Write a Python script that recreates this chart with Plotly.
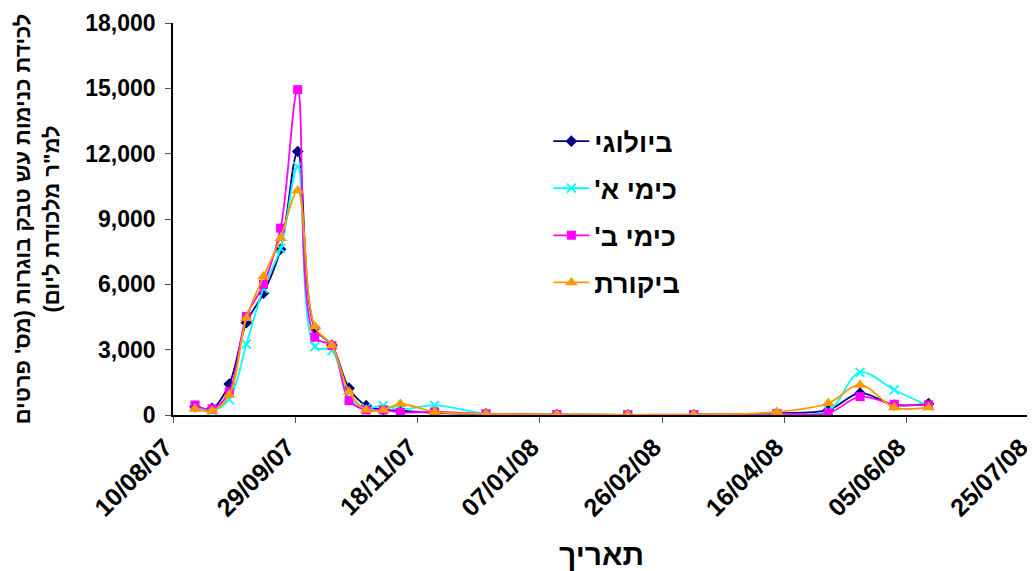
import plotly.graph_objects as go

dates = ["2007-08-19", "2007-08-26", "2007-09-02", "2007-09-09", "2007-09-16", "2007-09-23",
         "2007-09-30", "2007-10-07", "2007-10-14", "2007-10-21", "2007-10-28", "2007-11-04",
         "2007-11-11", "2007-11-25", "2007-12-16", "2008-01-14", "2008-02-12", "2008-03-10",
         "2008-04-13", "2008-05-04", "2008-05-17", "2008-05-31", "2008-06-14"]

biological = [380, 300, 1420, 4240, 5590, 7610, 12100, 4000, 3200, 1230, 430, 250,
              200, 100, 50, 20, 10, 10, 80, 230, 1000, 460, 520]
chemical_a = [400, 200, 720, 3250, 5820, 7650, 11410, 3140, 2960, 800, 320, 430,
              260, 440, 60, 20, 10, 10, 60, 200, 1960, 1150, 420]
chemical_b = [460, 280, 1070, 4520, 6000, 8580, 14940, 3570, 3190, 660, 230, 230,
              120, 140, 50, 20, 10, 20, 60, 90, 840, 490, 460]
control = [280, 200, 920, 4440, 6360, 8120, 10310, 4060, 3190, 1070, 230, 230,
           505, 140, 50, 20, 10, 20, 140, 540, 1380, 350, 350]

series_names = ["ביולוגי", "כימי א'\u200f", "כימי ב'\u200f", "ביקורת"]

x_tickvals = ["2007-08-10", "2007-09-29", "2007-11-18", "2008-01-07",
              "2008-02-26", "2008-04-16", "2008-06-05", "2008-07-25"]
x_ticktext = ["10/08/07", "29/09/07", "18/11/07", "07/01/08",
              "26/02/08", "16/04/08", "05/06/08", "25/07/08"]
y_tickvals = [0, 3000, 6000, 9000, 12000, 15000, 18000]

FONT = "Arial, 'Liberation Sans', sans-serif"

styles = [
    dict(color="#000080", symbol="diamond", size=9),
    dict(color="#00FFFF", symbol="x-thin", size=9),
    dict(color="#FF00FF", symbol="square", size=9),
    dict(color="#FF9900", symbol="triangle-up", size=11),
]
values = [biological, chemical_a, chemical_b, control]

fig = go.Figure()
for i, (name, vals, st) in enumerate(zip(series_names, values, styles)):
    marker = dict(color=st["color"], symbol=st["symbol"], size=st["size"])
    if st["symbol"] == "x-thin":
        marker["line"] = dict(color=st["color"], width=1.8)
    fig.add_trace(go.Scatter(
        x=dates, y=vals, name=name, mode="lines+markers",
        line=dict(color=st["color"], width=1.8, shape="spline", smoothing=1),
        marker=marker, legendgroup=f"g{i}",
    ))

fig.update_layout(
    width=1027, height=563,
    margin=dict(l=165, r=2, t=15, b=156),
    paper_bgcolor="white", plot_bgcolor="white",
    font=dict(family=FONT, color="black"),
    showlegend=True,
    legend=dict(
        x=0.438, y=0.76, xanchor="left", yanchor="top",
        font=dict(family=FONT, size=27, color="black", weight="bold"),
        tracegroupgap=9, itemwidth=36, bgcolor="rgba(0,0,0,0)",
    ),
    xaxis=dict(
        type="date", range=["2007-08-10", "2008-07-25 12:00"],
        tickvals=x_tickvals, ticktext=x_ticktext, tickangle=-45,
        tickfont=dict(family=FONT, size=25, color="black", weight="bold"),
        ticklabelshift=-8, ticklabeloverflow="allow",
        showline=True, linecolor="black", linewidth=1.5,
        ticks="outside", ticklen=6, tickcolor="#555", showgrid=False, zeroline=False,
        title=dict(text="תאריך", font=dict(family=FONT, size=30, color="black", weight="bold"),
                   standoff=27),
    ),
    yaxis=dict(
        range=[0, 18000], tickvals=y_tickvals, tickformat=",d",
        tickfont=dict(family=FONT, size=23, color="black", weight="bold"),
        ticklabelstandoff=5,
        showline=True, linecolor="black", linewidth=1.5,
        ticks="outside", ticklen=6, tickcolor="#555", showgrid=False, zeroline=False,
        title=dict(text="לכידת כנימות עש טבק בוגרות (מס' פרטים<br>למ\"ר מלכודת ליום)\u200f",
                   font=dict(family=FONT, size=22, color="black", weight="bold"),
                   standoff=20),
    ),
)

fig.write_html("out.html")
